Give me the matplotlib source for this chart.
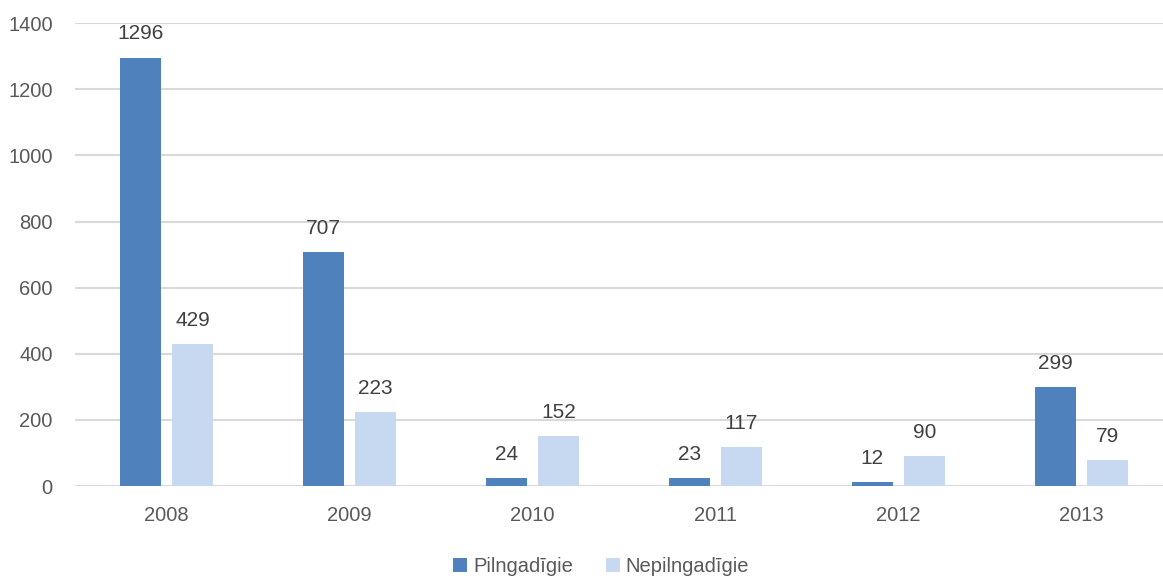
"""Grouped bar chart: Pilngadīgie vs Nepilngadīgie, 2008-2013."""

import matplotlib

matplotlib.use("Agg")

import matplotlib.pyplot as plt
import numpy as np

years = ["2008", "2009", "2010", "2011", "2012", "2013"]
pilngadigie = [1296, 707, 24, 23, 12, 299]
nepilngadigie = [429, 223, 152, 117, 90, 79]
series_names = ["Pilngadīgie", "Nepilngadīgie"]
yticks = [0, 200, 400, 600, 800, 1000, 1200, 1400]

DARK = "#4F81BD"
LIGHT = "#C6D9F0"
TEXT = "#595959"

plt.rcParams["font.family"] = ["Liberation Sans", "DejaVu Sans"]

fig = plt.figure(figsize=(11.63, 5.78), dpi=100)
ax = fig.add_axes([0.0645, 0.159, 0.944, 0.801])

x = np.arange(len(years))
width = 0.224
offset = 0.142

bars1 = ax.bar(x - offset, pilngadigie, width, color=DARK, label=series_names[0], zorder=3)
bars2 = ax.bar(x + offset, nepilngadigie, width, color=LIGHT, label=series_names[1], zorder=3)

for bars in (bars1, bars2):
    for b in bars:
        ax.annotate(
            f"{int(b.get_height())}",
            (b.get_x() + b.get_width() / 2, b.get_height()),
            xytext=(0, 17),
            textcoords="offset points",
            ha="center",
            va="center",
            fontsize=15,
            color="#404040",
        )

ax.set_xlim(-0.5, len(years) - 0.5)
ax.set_ylim(0, 1400)
ax.set_yticks(yticks)
ax.set_xticks(x)
ax.set_xticklabels(years)
ax.tick_params(axis="both", length=0, labelsize=14.5, colors=TEXT)
ax.tick_params(axis="x", pad=14)
ax.tick_params(axis="y", pad=16)
ax.grid(axis="y", color="#D9D9D9", linewidth=1.5, zorder=0)
for s in ax.spines.values():
    s.set_visible(False)
ax.set_axisbelow(True)

fig.legend(
    loc="lower center",
    bbox_to_anchor=(0.517, -0.028),
    ncol=2,
    frameon=False,
    fontsize=14.5,
    labelcolor=TEXT,
    handlelength=0.7,
    handleheight=0.7,
    handletextpad=0.3,
    columnspacing=1.6,
)

fig.savefig("out.png", dpi=100)
plt.close(fig)
